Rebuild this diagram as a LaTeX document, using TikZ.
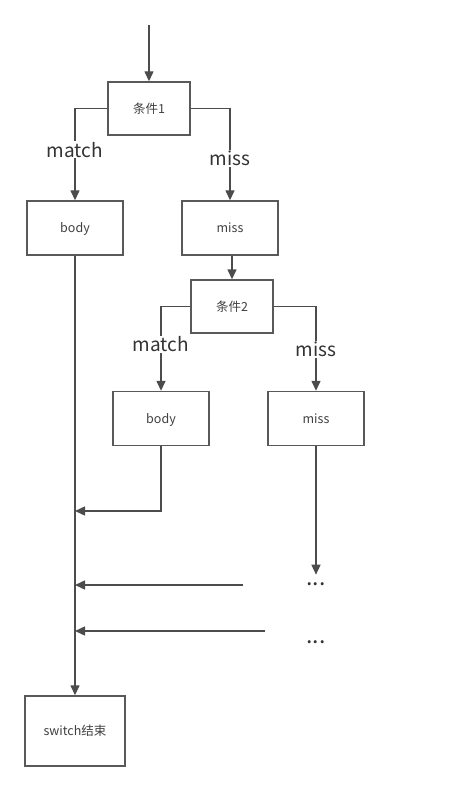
\documentclass[tikz,border=0pt]{standalone}
\usepackage{fontspec}
\setmainfont{Noto Sans CJK SC}
\usetikzlibrary{arrows.meta,positioning}

\begin{document}
\begin{tikzpicture}[x=1pt,y=-1pt,line width=1.4pt,
			box/.style={draw=black!65,rectangle,minimum width=96pt,minimum height=54pt,inner sep=0pt,text height=11.5pt,text depth=2pt,font=\fontsize{12.5}{14}\selectfont,text=black!75},
			lbl/.style={fill=white,inner sep=1pt,font=\fontsize{19}{21}\selectfont,text=black!80},
			dots/.style={inner sep=0pt,font=\fontsize{23}{25}\selectfont,text=black!80},
			hv/.style={to path={-| (\tikztotarget) \tikztonodes}},
			vh/.style={to path={|- (\tikztotarget) \tikztonodes}},
			every edge/.append style={draw=black!70},
			>={Triangle[length=10pt,width=9pt]}]
			\useasboundingbox (0,0) rectangle (475,791);
			\node[box,minimum width=82pt,minimum height=53pt](c1) at (149,108.5) {条件1};
			\node[box](b1) at (75,228) {body};
			\node[box](m1) at (230,228) {miss};
			\node[box,minimum width=82pt,minimum height=53pt](c2) at (232,306.5) {条件2};
			\node[box](b2) at (161,418.5) {body};
			\node[box](m2) at (316,418.5) {miss};
			\node[box,minimum width=100pt,minimum height=70pt](e) at (75,731) {switch结束};
			\node[dots](d1) at (316,584) {...};
			\node[dots](d2) at (316,642) {...};
			\coordinate (s) at (149,25);
			\coordinate (j1) at (75,511);
			\coordinate (f1) at (243,585);
			\coordinate (j2) at (75,585);
			\coordinate (f2) at (265,631);
			\coordinate (j3) at (75,631);
			\path[->]
			(s) edge (c1)
			(c1.west) edge [hv] node[lbl,pos=0.725] {match} (b1)
			(c1.east) edge [hv] node[lbl,pos=0.77] {miss} (m1)
			(m1.south -| c2.north) edge (c2)
			(c2.west) edge [hv] node[lbl,pos=0.725] {match} (b2)
			(c2.east) edge [hv] node[lbl,pos=0.755] {miss} (m2)
			(b1) edge (e)
			(b2) edge [vh] (j1)
			(m2) edge [shorten >=7pt] (d1.north)
			(f1) edge (j2)
			(f2) edge (j3);
			\end{tikzpicture}
\end{document}
